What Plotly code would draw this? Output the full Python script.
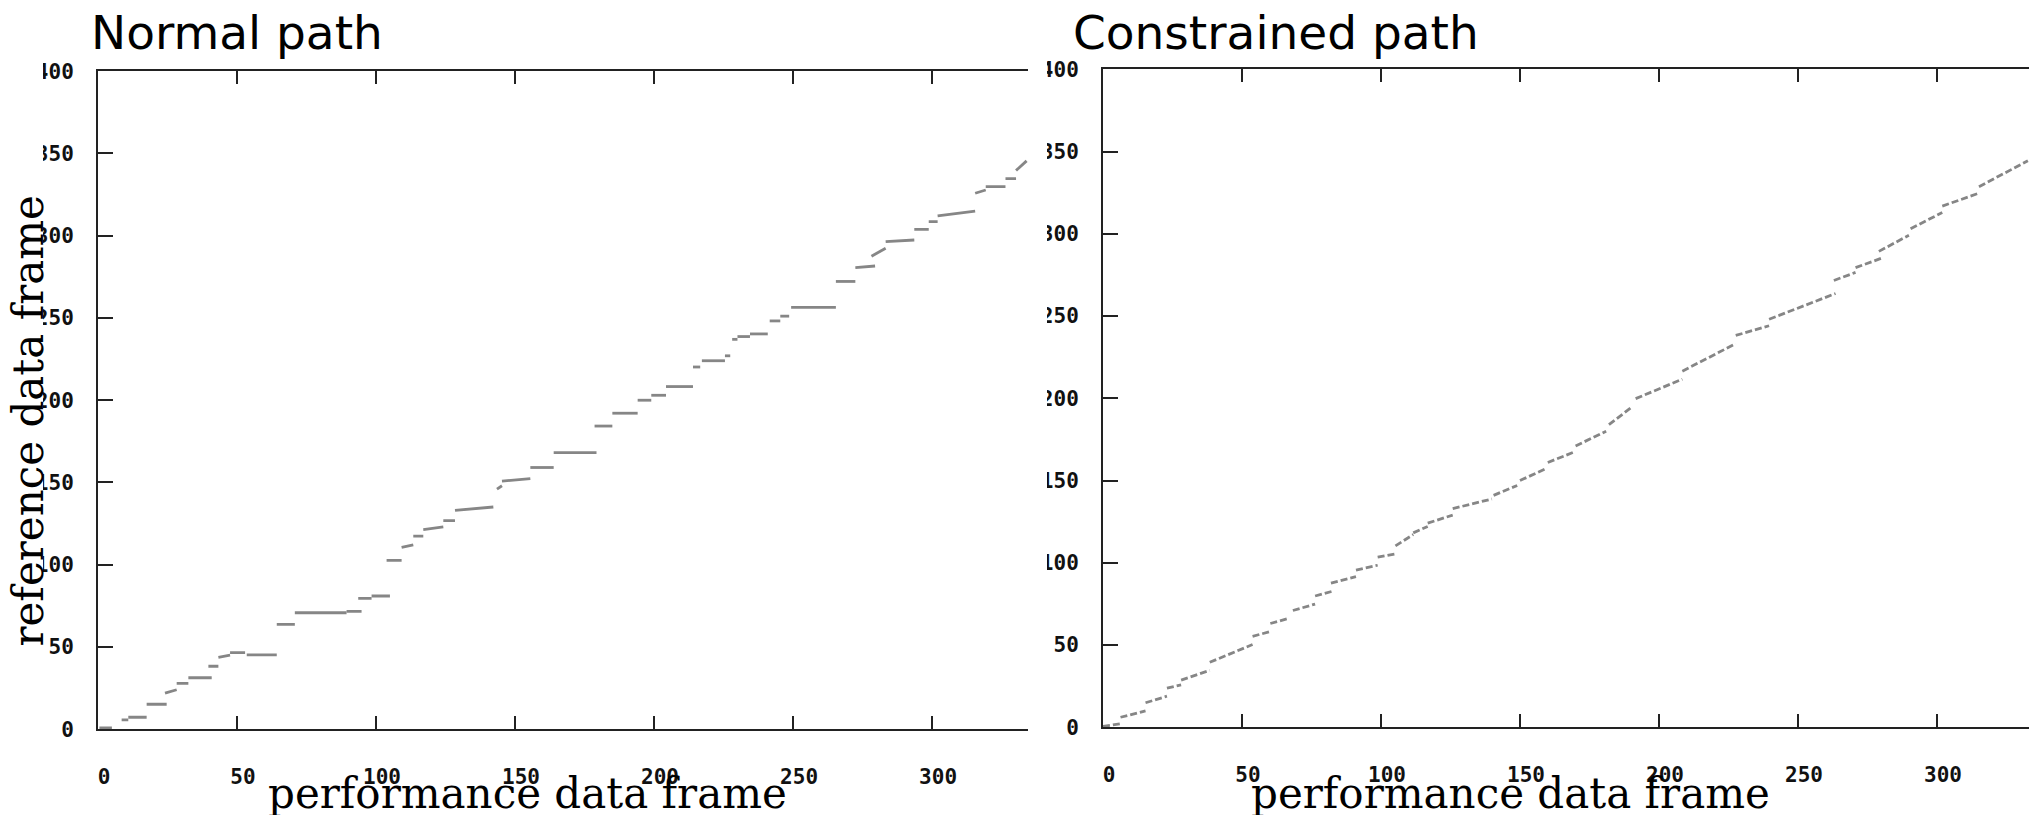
import plotly.graph_objects as go

W, H = 2029, 815

# ---------------- data ----------------
x_tick_values = [0, 50, 100, 150, 200, 250, 300]
y_tick_values = [0, 50, 100, 150, 200, 250, 300, 350, 400]
x_range_normal = [0, 334.5]
x_range_constrained = [0, 333.1]
y_range = [0, 400]

# Normal path: horizontal runs (performance frame start/end, reference frame start/end)
normal_x0 = [0.5, 8.5, 10.9, 17.5, 24.1, 28.3, 32.5, 39.7, 43.3, 47.5, 53.5, 64.3, 70.8, 89.4, 93.6, 98.4,
             103.8, 109.2, 113.4, 117.0, 124.2, 128.4, 143.5, 145.3, 155.5, 163.9, 178.6, 185.0, 194.1, 199.0,
             204.3, 214.0, 217.2, 225.5, 228.1, 230.0, 234.5, 241.6, 245.4, 249.3, 265.4, 272.4, 278.2, 283.3,
             293.6, 298.8, 302.0, 315.5, 319.3, 326.4, 330.2]
normal_x1 = [5.0, 10.9, 17.5, 24.7, 28.3, 32.5, 40.9, 43.3, 47.5, 52.9, 64.3, 70.8, 89.4, 94.8, 98.4, 105.0,
             109.2, 113.4, 117.0, 124.2, 128.4, 142.2, 145.3, 155.5, 163.9, 179.3, 185.0, 194.1, 199.0, 204.3,
             214.0, 216.6, 225.5, 227.4, 230.0, 234.5, 240.9, 245.4, 248.6, 265.4, 272.4, 279.5, 283.3, 293.6,
             298.8, 302.0, 315.5, 319.3, 326.4, 330.2, 334.0]
normal_y0 = [0.8, 5.7, 7.3, 15.2, 22.0, 27.9, 31.3, 38.3, 43.7, 46.6, 45.2, 63.7, 70.8, 71.6, 79.5, 81.0,
             102.7, 110.5, 117.4, 121.3, 126.8, 133.1, 146.0, 150.8, 159.1, 168.1, 184.3, 192.1, 200.0, 203.0,
             208.3, 220.2, 224.0, 227.0, 237.0, 238.7, 240.3, 248.2, 251.1, 256.4, 272.2, 280.6, 287.5, 296.4,
             303.8, 308.6, 312.1, 325.8, 329.8, 334.7, 339.6]
normal_y1 = [0.8, 5.7, 7.3, 15.2, 24.0, 27.9, 31.3, 38.3, 45.0, 46.6, 45.2, 63.7, 70.8, 71.6, 79.5, 81.0,
             102.7, 112.0, 117.4, 123.0, 126.8, 135.1, 148.0, 152.4, 159.1, 168.1, 184.3, 192.1, 200.0, 203.0,
             208.3, 220.2, 224.0, 227.0, 237.0, 238.7, 240.3, 248.2, 251.1, 256.4, 272.2, 281.6, 292.4, 297.4,
             303.8, 308.6, 315.0, 327.8, 329.8, 334.7, 345.5]

# Constrained path: short runs
constrained_x0 = [0.0, 6.3, 15.3, 23.0, 28.1, 38.4, 53.8, 60.2, 68.3, 76.3, 82.0, 91.0, 98.8, 105.2, 111.6,
                  116.8, 125.8, 140.5, 150.0, 160.0, 170.0, 182.0, 191.6, 208.4, 227.6, 239.6, 262.9, 270.7,
                  279.1, 290.5, 301.9, 315.1]
constrained_x1 = [6.3, 15.3, 23.0, 28.1, 38.4, 53.8, 60.2, 66.6, 76.3, 82.7, 91.0, 98.8, 105.2, 111.6, 116.8,
                  125.8, 139.9, 149.0, 159.0, 169.0, 181.0, 190.5, 208.4, 227.6, 239.6, 263.5, 270.7, 280.3,
                  289.9, 301.9, 315.1, 332.7]
constrained_y0 = [0.5, 6.1, 14.9, 23.8, 28.7, 39.5, 55.3, 63.1, 71.0, 79.8, 87.7, 95.6, 103.4, 110.3, 118.2,
                  124.1, 132.9, 141.0, 150.0, 161.0, 171.0, 184.0, 199.8, 216.5, 238.2, 248.0, 271.6, 279.4,
                  289.3, 303.1, 316.8, 328.6]
constrained_y1 = [2.2, 10.0, 18.9, 25.8, 34.6, 50.3, 58.2, 66.1, 74.9, 82.8, 91.6, 98.5, 105.4, 117.2, 122.1,
                  129.0, 138.8, 147.0, 157.0, 167.0, 180.0, 195.0, 211.6, 233.2, 244.1, 263.7, 276.5, 285.3,
                  299.1, 312.9, 324.7, 344.4]


def runs(x0, x1, y0, y1):
    xs, ys = [], []
    for a, b, c, d in zip(x0, x1, y0, y1):
        xs += [a, b, None]
        ys += [c, d, None]
    return xs, ys


nx, ny = runs(normal_x0, normal_x1, normal_y0, normal_y1)
cx, cy = runs(constrained_x0, constrained_x1, constrained_y0, constrained_y1)

PATH_COLOR = "#868686"
AXIS_COLOR = "#222222"

fig = go.Figure()
fig.add_trace(go.Scatter(x=nx, y=ny, mode="lines", line=dict(color=PATH_COLOR, width=2.8),
                         xaxis="x", yaxis="y", showlegend=False, hoverinfo="skip"))
fig.add_trace(go.Scatter(x=cx, y=cy, mode="lines", line=dict(color=PATH_COLOR, width=2.8, dash="7px,3px"),
                         xaxis="x2", yaxis="y2", showlegend=False, hoverinfo="skip"))

tickfont = dict(family="DejaVu Sans Mono", size=21, color="#111111", weight="bold")

common_x = dict(tickmode="array", tickvals=x_tick_values, ticktext=[str(v) for v in x_tick_values],
                ticks="inside", ticklen=13, tickwidth=2, tickcolor=AXIS_COLOR,
                showline=True, linecolor=AXIS_COLOR, linewidth=2, mirror="ticks",
                showgrid=False, zeroline=False, tickfont=tickfont,
                ticklabelstandoff=28, ticklabelshift=6, fixedrange=True)
common_y = dict(tickmode="array", tickvals=y_tick_values, ticktext=[str(v) for v in y_tick_values],
                range=y_range, ticks="inside", ticklen=15, tickwidth=2, tickcolor=AXIS_COLOR,
                showline=True, linecolor=AXIS_COLOR, linewidth=2, mirror=False,
                showgrid=False, zeroline=False, tickfont=tickfont,
                ticklabelstandoff=18, fixedrange=True)

fig.update_layout(
    width=W, height=H,
    margin=dict(l=0, r=0, t=0, b=0),
    paper_bgcolor="white", plot_bgcolor="white",
    xaxis=dict(domain=[98 / W, 1028 / W], range=x_range_normal, anchor="y", **common_x),
    yaxis=dict(domain=[1 - 739 / H, 1 - 61 / H], anchor="x", **common_y),
    xaxis2=dict(domain=[1103 / W, 1.0], range=x_range_constrained, anchor="y2", **common_x),
    yaxis2=dict(domain=[1 - 737 / H, 1 - 59 / H], anchor="x2", **common_y),
)

# cropped edges of the original plot images
fig.add_shape(type="rect", xref="paper", yref="paper", x0=0, x1=43 / W, y0=0.05, y1=0.97,
              fillcolor="white", line=dict(width=0), layer="above")
fig.add_shape(type="rect", xref="paper", yref="paper", x0=1030 / W, x1=1047 / W, y0=0.05, y1=0.97,
              fillcolor="white", line=dict(width=0), layer="above")

title_font = dict(family="DejaVu Sans", size=47, color="black")
label_font = dict(family="DejaVu Serif", size=42, color="black")

fig.add_annotation(text="Normal path", xref="paper", yref="paper", x=89 / W, y=1 - 52 / H,
                   xanchor="left", yanchor="bottom", showarrow=False, font=title_font)
fig.add_annotation(text="Constrained path", xref="paper", yref="paper", x=1071 / W, y=1 - 52 / H,
                   xanchor="left", yanchor="bottom", showarrow=False, font=title_font)
fig.add_annotation(text="reference data frame", xref="paper", yref="paper", x=29 / W, y=1 - 421 / H,
                   xanchor="center", yanchor="middle", textangle=-90, showarrow=False, font=label_font)
fig.add_annotation(text="performance data frame", xref="paper", yref="paper", x=527 / W, y=1 - 805 / H,
                   xanchor="center", yanchor="middle", showarrow=False, font=label_font)
fig.add_annotation(text="performance data frame", xref="paper", yref="paper", x=1510 / W, y=1 - 805 / H,
                   xanchor="center", yanchor="middle", showarrow=False, font=label_font)

fig.write_html("out.html", config={"displayModeBar": False},
               post_script="document.body.style.margin='0px';document.body.style.overflow='hidden';")
